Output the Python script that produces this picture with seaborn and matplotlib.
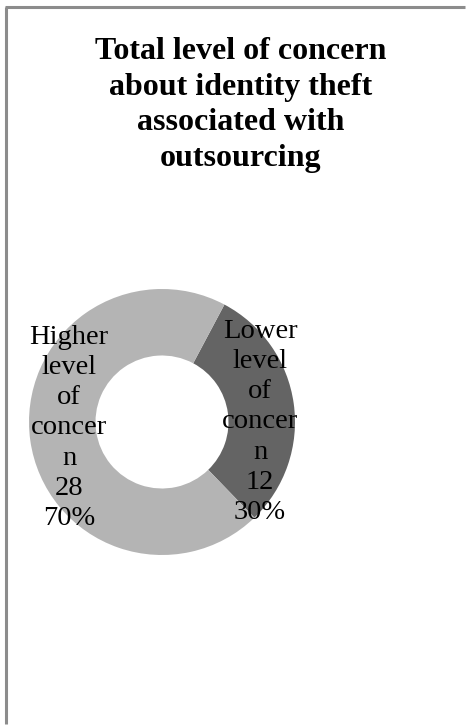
import matplotlib
matplotlib.use("Agg")
import matplotlib.pyplot as plt
import seaborn as sns
from matplotlib.lines import Line2D

sns.set_theme(style="white")
plt.rcParams['font.family'] = ['Liberation Serif', 'DejaVu Serif']

# data
categories = ["Lower\nlevel\nof\nconcer\nn", "Higher\nlevel\nof\nconcer\nn"]
counts = [12, 28]
colors = ["#646464", "#b4b4b4"]
title = "Total level of concern\nabout identity theft\nassociated with\noutsourcing"

fig = plt.figure(figsize=(4.68, 7.25), dpi=100)
W, H = 468, 725

# gray frame (only left and top edges are visible)
fx, fy = 6 / W, 1 - 7 / H
fig.add_artist(Line2D([fx, fx], [0.001, fy], transform=fig.transFigure, color="#8c8c8c", lw=2.2,
                      solid_capstyle="butt"))
fig.add_artist(Line2D([fx - 1.1 / W, 0.993], [fy, fy], transform=fig.transFigure, color="#8c8c8c",
                      lw=2.2, solid_capstyle="butt"))

fig.text(241 / W, 1 - 105 / H, title, ha="center", va="center", fontsize=23,
         fontweight="bold", linespacing=1.29, color="black")

# donut axes: center (162, 422), radius 133 px
cx, cy, r = 162, 422, 133
ax = fig.add_axes([(cx - r) / W, (H - cy - r) / H, 2 * r / W, 2 * r / H])
wedges, _ = ax.pie(counts, colors=colors, startangle=62, counterclock=False,
                   radius=1.0, wedgeprops=dict(width=0.5, edgecolor="none"))
ax.set_xlim(-1, 1)
ax.set_ylim(-1, 1)
ax.set_aspect("equal")
ax.axis("off")

total = sum(counts)
label_pos = [(260, 422), (69, 428)]
for cat, n, (px, py) in zip(categories, counts, label_pos):
    pct = round(100 * n / total)
    ax.text((px - cx) / r, (cy - py) / r, f"{cat}\n{n}\n{pct}%", ha="center",
            va="center", fontsize=20.5, linespacing=1.28, color="black")

fig.savefig("out.png", dpi=100)
